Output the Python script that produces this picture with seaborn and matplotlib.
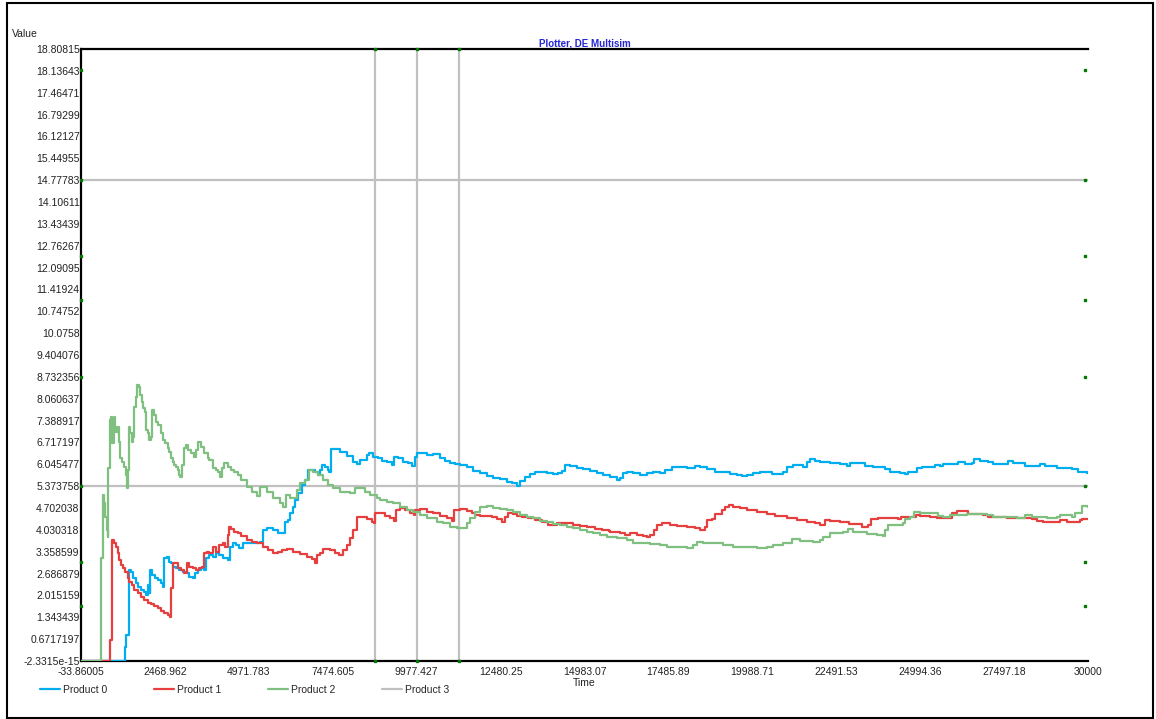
import matplotlib
matplotlib.use('Agg')
import matplotlib.pyplot as plt
import seaborn as sns
import pandas as pd
from matplotlib.lines import Line2D
from matplotlib.patches import Rectangle

sns.set_style('white')
plt.rcParams['font.family'] = ['Liberation Sans', 'DejaVu Sans']

series_names = ['Product 0', 'Product 1', 'Product 2', 'Product 3']
series_colors = ['#00AEEF', '#E5403F', '#7FBF7F', '#C0C0C0']

product_0 = [(-33.86, 0), (1278, 0.44), (1317, 0.80), (1388, 2.80), (1457, 2.74), (1517, 2.54), (1607, 2.39),
             (1675, 2.28), (1756, 2.18), (1836, 2.13), (1914, 2.03), (1955, 2.34), (2015, 2.08), (2034, 2.80),
             (2093, 2.64), (2173, 2.54), (2272, 2.49), (2352, 2.39), (2411, 2.28), (2450, 3.16), (2531, 3.21),
             (2591, 3.05), (2650, 3.00), (2710, 2.90), (2799, 2.85), (2898, 2.80), (2999, 2.74), (3128, 2.69),
             (3196, 2.59), (3298, 2.54), (3366, 2.69), (3447, 2.80), (3545, 2.85), (3644, 2.80), (3694, 3.16),
             (3793, 3.26), (3893, 3.21), (3993, 3.31), (4091, 3.26), (4192, 3.16), (4341, 3.10), (4410, 3.51),
             (4490, 3.62), (4589, 3.56), (4688, 3.46), (4807, 3.62), (5305, 3.67), (5404, 4.03), (5505, 4.08),
             (5702, 4.03), (5851, 3.92), (6051, 4.28), (6149, 4.33), (6199, 4.54), (6298, 4.74), (6349, 4.95),
             (6448, 5.15), (6549, 5.41), (6648, 5.56), (6749, 5.87), (6945, 5.82), (7044, 5.72), (7094, 5.87),
             (7144, 6.02), (7243, 5.97), (7342, 5.87), (7372, 5.82), (7414, 6.51), (7691, 6.43), (7891, 6.30),
             (8088, 6.12), (8208, 6.05), (8287, 6.18), (8487, 6.33), (8565, 6.40), (8685, 6.28), (8834, 6.23),
             (8934, 6.16), (9084, 6.12), (9233, 6.02), (9311, 6.28), (9430, 6.23), (9579, 6.12), (9728, 6.08),
             (9847, 5.99), (9928, 6.28), (9996, 6.38), (10277, 6.33), (10474, 6.35), (10674, 6.23), (10823, 6.16),
             (10972, 6.09), (11121, 6.05), (11270, 6.02), (11470, 5.95), (11667, 5.85), (11867, 5.77), (12067, 5.69),
             (12264, 5.63), (12464, 5.58), (12664, 5.51), (12813, 5.46), (12962, 5.39), (13061, 5.54), (13210, 5.66),
             (13359, 5.75), (13508, 5.82), (13708, 5.82), (13858, 5.77), (14055, 5.75), (14204, 5.77), (14303, 5.85),
             (14402, 6.02), (14551, 6.00), (14750, 5.92), (14948, 5.89), (15148, 5.85), (15350, 5.77), (15548, 5.72),
             (15743, 5.66), (15943, 5.56), (16042, 5.61), (16141, 5.77), (16245, 5.82), (16442, 5.77), (16641, 5.72),
             (16841, 5.77), (17038, 5.82), (17238, 5.77), (17388, 5.87), (17587, 5.97), (17835, 5.95), (18034, 5.92),
             (18282, 5.99), (18431, 5.95), (18631, 5.89), (18879, 5.82), (19125, 5.81), (19323, 5.75), (19523, 5.72),
             (19673, 5.69), (19823, 5.72), (20021, 5.77), (20221, 5.82), (20568, 5.74), (20895, 5.82), (21015, 5.97),
             (21212, 6.02), (21510, 5.97), (21609, 6.12), (21708, 6.20), (21857, 6.16), (22008, 6.12), (22305, 6.08),
             (22602, 6.04), (22803, 5.99), (22902, 6.08), (23349, 5.99), (23597, 5.95), (23945, 5.89), (24094, 5.82),
             (24393, 5.77), (24541, 5.74), (24640, 5.82), (24908, 5.92), (25041, 5.95), (25288, 5.97), (25437, 6.02),
             (25587, 5.99), (25685, 6.04), (26133, 6.12), (26332, 6.05), (26532, 6.09), (26610, 6.20), (26780, 6.15),
             (27027, 6.11), (27175, 6.04), (27624, 6.15), (27773, 6.08), (28121, 5.99), (28569, 6.04), (28718, 5.99),
             (29067, 5.92), (29514, 5.89), (29713, 5.82), (29962, 5.79), (30000, 5.79)]

product_1 = [(-33.86, 0), (840, 0.64), (900, 3.72), (960, 3.62), (1019, 3.51), (1061, 3.31), (1109, 3.10),
             (1159, 2.95), (1219, 2.85), (1278, 2.74), (1359, 2.54), (1407, 2.44), (1478, 2.34), (1556, 2.18),
             (1657, 2.08), (1756, 1.98), (1854, 1.87), (1955, 1.77), (2054, 1.74), (2152, 1.69), (2254, 1.62),
             (2352, 1.55), (2450, 1.48), (2552, 1.41), (2621, 1.36), (2650, 2.23), (2700, 3.00), (2850, 2.85),
             (2949, 2.80), (3047, 2.69), (3128, 3.00), (3196, 2.90), (3298, 2.85), (3396, 2.80), (3494, 2.85),
             (3566, 2.90), (3626, 3.33), (3724, 3.36), (3793, 3.31), (3893, 3.51), (3993, 3.36), (4091, 3.56),
             (4192, 3.62), (4261, 3.51), (4341, 3.87), (4371, 4.13), (4440, 4.05), (4538, 3.97), (4640, 3.92),
             (4738, 3.84), (4908, 3.72), (5057, 3.67), (5206, 3.62), (5404, 3.51), (5553, 3.41), (5702, 3.33),
             (5851, 3.36), (5952, 3.41), (6101, 3.43), (6298, 3.36), (6498, 3.29), (6698, 3.21), (6847, 3.13),
             (6945, 3.02), (6996, 3.26), (7094, 3.33), (7193, 3.43), (7393, 3.41), (7541, 3.33), (7670, 3.26),
             (7771, 3.41), (7891, 3.56), (7989, 3.77), (8088, 4.03), (8208, 4.42), (8338, 4.44), (8487, 4.36),
             (8637, 4.28), (8706, 4.25), (8735, 4.54), (8884, 4.56), (9033, 4.46), (9182, 4.38), (9302, 4.31),
             (9361, 4.64), (9481, 4.69), (9630, 4.64), (9779, 4.54), (9898, 4.49), (9928, 4.64), (10077, 4.67),
             (10277, 4.59), (10474, 4.54), (10674, 4.46), (10873, 4.38), (11022, 4.31), (11091, 4.64), (11270, 4.67),
             (11470, 4.62), (11619, 4.54), (11718, 4.49), (11867, 4.46), (12216, 4.42), (12365, 4.36), (12515, 4.28),
             (12614, 4.42), (12713, 4.56), (12861, 4.52), (12962, 4.46), (13110, 4.42), (13309, 4.38), (13508, 4.32),
             (13708, 4.27), (13906, 4.17), (14156, 4.25), (14504, 4.23), (14652, 4.18), (14852, 4.15), (15052, 4.13),
             (15300, 4.05), (15500, 4.03), (15726, 4.00), (15743, 3.97), (16042, 3.92), (16191, 3.87), (16340, 3.92),
             (16540, 3.87), (16737, 3.84), (16837, 3.82), (16936, 3.87), (17056, 4.03), (17136, 4.18), (17285, 4.23),
             (17533, 4.18), (17733, 4.15), (18031, 4.13), (18281, 4.08), (18431, 4.03), (18580, 4.13), (18650, 4.33),
             (18780, 4.36), (18879, 4.52), (19079, 4.64), (19178, 4.72), (19278, 4.79), (19423, 4.74), (19624, 4.69),
             (19823, 4.64), (20121, 4.59), (20419, 4.52), (20669, 4.46), (21015, 4.38), (21313, 4.33), (21609, 4.28),
             (21857, 4.23), (22008, 4.18), (22155, 4.33), (22305, 4.31), (22602, 4.28), (22880, 4.21), (23251, 4.13),
             (23448, 4.18), (23518, 4.36), (23745, 4.38), (24342, 4.36), (24414, 4.42), (24541, 4.44), (24870, 4.49),
             (24989, 4.46), (25288, 4.42), (25486, 4.38), (25833, 4.38), (25934, 4.56), (26083, 4.62), (26281, 4.62),
             (26430, 4.52), (26877, 4.49), (27027, 4.44), (27276, 4.42), (27574, 4.38), (28321, 4.36), (28469, 4.31),
             (28668, 4.28), (29165, 4.33), (29366, 4.28), (29763, 4.33), (29813, 4.37), (30000, 4.37)]

product_2 = [(-33.86, 0), (563, 3.16), (613, 5.10), (652, 4.86), (691, 4.43), (727, 4.03), (762, 3.82), (780, 5.92),
             (822, 7.41), (861, 7.51), (900, 6.69), (942, 7.51), (980, 7.20), (1019, 7.05), (1061, 7.20), (1100, 6.74),
             (1138, 6.23), (1198, 6.12), (1248, 5.97), (1299, 5.72), (1329, 5.31), (1359, 5.87), (1398, 7.20),
             (1437, 7.00), (1478, 6.74), (1517, 6.89), (1556, 7.82), (1598, 8.12), (1636, 8.48), (1696, 8.43),
             (1735, 8.18), (1795, 7.97), (1825, 7.77), (1875, 7.66), (1905, 7.10), (1965, 7.00), (2003, 6.79),
             (2045, 6.89), (2093, 7.71), (2143, 7.56), (2212, 7.35), (2271, 7.25), (2352, 7.00), (2411, 6.79),
             (2471, 6.69), (2552, 6.54), (2600, 6.43), (2650, 6.23), (2700, 6.12), (2749, 6.02), (2800, 5.97),
             (2850, 5.87), (2889, 5.72), (2928, 5.66), (2970, 6.02), (3047, 6.54), (3098, 6.64), (3148, 6.48),
             (3247, 6.38), (3345, 6.28), (3387, 6.48), (3447, 6.74), (3545, 6.59), (3644, 6.38), (3745, 6.23),
             (3793, 6.18), (3893, 5.92), (3993, 5.87), (4062, 5.82), (4121, 5.66), (4162, 5.92), (4222, 6.08),
             (4341, 5.97), (4440, 5.87), (4538, 5.82), (4640, 5.72), (4738, 5.56), (4908, 5.36), (5057, 5.20),
             (5206, 5.07), (5305, 5.36), (5505, 5.20), (5702, 5.00), (5902, 4.85), (6000, 4.74), (6081, 5.10),
             (6200, 5.00), (6349, 5.00), (6418, 5.26), (6499, 5.46), (6648, 5.56), (6777, 5.87), (6894, 5.82),
             (7044, 5.72), (7193, 5.56), (7342, 5.41), (7491, 5.31), (7691, 5.20), (7989, 5.15), (8138, 5.31),
             (8287, 5.31), (8436, 5.20), (8585, 5.10), (8785, 5.00), (8884, 4.95), (9084, 4.90), (9281, 4.85),
             (9481, 4.74), (9680, 4.64), (9877, 4.59), (10077, 4.49), (10277, 4.38), (10575, 4.28), (10772, 4.23),
             (10972, 4.13), (11172, 4.08), (11420, 4.08), (11470, 4.23), (11569, 4.38), (11718, 4.59), (11867, 4.74),
             (12067, 4.76), (12264, 4.69), (12464, 4.66), (12664, 4.64), (12861, 4.59), (13061, 4.49), (13261, 4.42),
             (13458, 4.38), (13658, 4.31), (13858, 4.28), (14055, 4.21), (14255, 4.18), (14455, 4.13), (14652, 4.08),
             (14852, 4.03), (15052, 3.97), (15249, 3.92), (15449, 3.87), (15649, 3.82), (15947, 3.77), (16245, 3.72),
             (16442, 3.64), (16741, 3.62), (16940, 3.60), (17238, 3.56), (17438, 3.51), (17736, 3.49), (18034, 3.46),
             (18231, 3.56), (18331, 3.67), (18528, 3.64), (18826, 3.62), (19125, 3.56), (19423, 3.51), (19823, 3.49),
             (20121, 3.48), (20419, 3.51), (20617, 3.56), (20915, 3.62), (21162, 3.74), (21410, 3.70), (21807, 3.67),
             (22008, 3.72), (22106, 3.82), (22305, 3.92), (22505, 3.94), (22702, 3.97), (22851, 4.05), (23001, 3.97),
             (23399, 3.90), (23697, 3.87), (23876, 3.84), (23945, 4.03), (24044, 4.18), (24294, 4.18), (24491, 4.23),
             (24541, 4.36), (24690, 4.42), (24809, 4.59), (24989, 4.54), (25288, 4.54), (25535, 4.46), (25684, 4.42),
             (25884, 4.49), (26382, 4.52), (26978, 4.49), (27175, 4.44), (27474, 4.42), (27873, 4.38), (28121, 4.49),
             (28321, 4.44), (28768, 4.38), (29067, 4.42), (29165, 4.49), (29514, 4.44), (29613, 4.56), (29813, 4.76),
             (30000, 4.74)]

# Product 3: reference marks (vertical times and horizontal levels)
product_3_times = [8735, 9987, 11240]
product_3_levels = [14.77783, 5.373758]
edge_marker_levels = [18.16, 14.77783, 12.45, 11.09, 8.73, 5.373758, 3.04, 1.69]
edge_marker_time = 29910

xtick_labels = ['-33.86005', '2468.962', '4971.783', '7474.605', '9977.427', '12480.25', '14983.07',
                '17485.89', '19988.71', '22491.53', '24994.36', '27497.18', '30000']
ytick_labels = ['-2.3315e-15', '0.6717197', '1.343439', '2.015159', '2.686879', '3.358599', '4.030318',
                '4.702038', '5.373758', '6.045477', '6.717197', '7.388917', '8.060637', '8.732356',
                '9.404076', '10.0758', '10.74752', '11.41924', '12.09095', '12.76267', '13.43439',
                '14.10611', '14.77783', '15.44955', '16.12127', '16.79299', '17.46471', '18.13643', '18.80815']

rows = []
for name, pts in zip(series_names[:3], [product_0, product_1, product_2]):
    for t, v in pts:
        rows.append((name, t, v))
df = pd.DataFrame(rows, columns=['series', 'Time', 'Value'])

W, H = 1156, 719
fig = plt.figure(figsize=(W / 100, H / 100), dpi=100)
fig.patch.set_facecolor('white')
ax = fig.add_axes([81 / W, 58 / H, 1007 / W, 612 / H])
ax.set_facecolor('white')

# Product 3 gray reference lines
for lv in product_3_levels:
    ax.axhline(lv, color=series_colors[3], lw=1.6, zorder=1)
for tv in product_3_times:
    ax.axvline(tv, color=series_colors[3], lw=1.6, zorder=1)

sns.lineplot(data=df, x='Time', y='Value', hue='series', hue_order=series_names[:3],
             palette=series_colors[:3], estimator=None, sort=False, drawstyle='steps-post',
             linewidth=1.6, legend=False, ax=ax, zorder=3)

xticks = [float(s) for s in xtick_labels]
yticks = [float(s) for s in ytick_labels]
ax.set_xlim(xticks[0], xticks[-1])
ax.set_ylim(yticks[0], yticks[-1])

# small green markers
ax.plot([xticks[0]] * len(edge_marker_levels), edge_marker_levels, ls='none', marker='s', ms=1.8,
        color='#007a00', clip_on=False, zorder=5)
ax.plot([edge_marker_time] * len(edge_marker_levels), edge_marker_levels, ls='none', marker='s', ms=1.8,
        color='#007a00', clip_on=False, zorder=5)
ax.plot(product_3_times, [yticks[-1]] * len(product_3_times), ls='none', marker='s', ms=1.8,
        color='#007a00', clip_on=False, zorder=5)
ax.plot(product_3_times, [yticks[0]] * len(product_3_times), ls='none', marker='s', ms=1.8,
        color='#007a00', clip_on=False, zorder=5)

ax.set_xticks(xticks)
ax.set_xticklabels(xtick_labels)
ax.set_yticks(yticks)
ax.set_yticklabels(ytick_labels)
ax.tick_params(axis='both', length=0, labelsize=7.5, colors='#222222')
ax.tick_params(axis='y', pad=1)
ax.tick_params(axis='x', pad=4)
ax.set_xlabel('')
ax.set_ylabel('')
ax.grid(False)

for side in ['left', 'top', 'bottom']:
    ax.spines[side].set_visible(True)
    ax.spines[side].set_color('black')
    ax.spines[side].set_linewidth(1.6)
ax.spines['right'].set_visible(False)

ax.set_title('Plotter, DE Multisim', fontsize=7, fontweight='bold', color='#2424D8', pad=2)

fig.text(12 / W, 1 - 34 / H, 'Value', fontsize=7.5, ha='left', va='center', color='#222222')
fig.text(584 / W, 1 - 683 / H, 'Time', fontsize=7.5, ha='center', va='center', color='#222222')

handles = [Line2D([0], [0], color=c, lw=1.6) for c in series_colors]
fig.legend(handles, series_names, loc='center left', bbox_to_anchor=(40 / W, 1 - 690 / H), ncol=4,
           frameon=False, fontsize=7.5, handlelength=1.9, handletextpad=0.3, columnspacing=4.5,
           borderpad=0, borderaxespad=0)

fig.add_artist(Rectangle((6.5 / W, 1.5 / H), (1153 - 6.5) / W, (716.3 - 1.5) / H,
                         transform=fig.transFigure, fill=False, ec='black', lw=1.5))

fig.savefig('out.png', dpi=100, facecolor='white')
